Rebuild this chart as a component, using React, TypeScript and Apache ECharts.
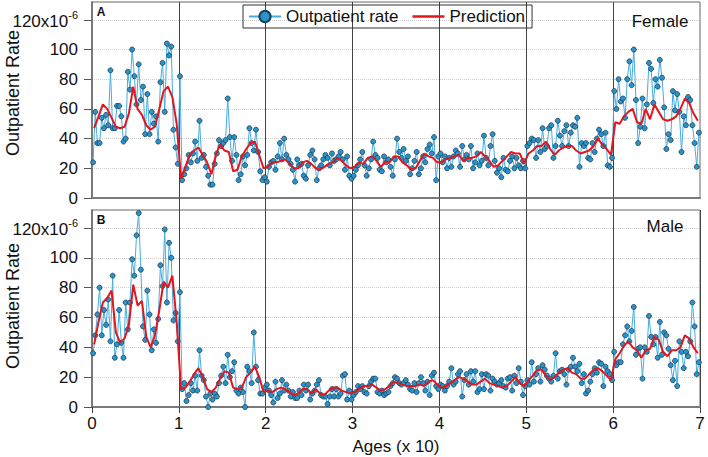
import React, { useEffect, useRef } from "react";
import * as echarts from "echarts";

const xTicks = [0, 1, 2, 3, 4, 5, 6, 7];
const yTicks = [0, 20, 40, 60, 80, 100, 120];
const legendNames = ["Outpatient rate", "Prediction"];
const panelLabels = ["A", "B"];
const sexLabels = ["Female", "Male"];

// Female observed rates (x10^-6), 40 points per decade section
const femaleObs0 = [24, 58, 37, 37, 54, 47, 56, 49, 86, 47, 47, 62, 62, 55, 38, 40, 85, 73, 100, 82, 63, 90, 66, 75, 43, 70, 43, 58, 50, 55, 38, 78, 91, 58, 104, 96, 102, 46, 34, 23];
const femaleObs1 = [82, 12, 16, 20, 29, 24, 30, 38, 25, 52, 27, 29, 21, 15, 9, 9, 23, 30, 39, 35, 37, 39, 67, 41, 25, 41, 29, 12, 16, 28, 22, 29, 47, 37, 32, 46, 31, 18, 12, 14];
const femaleObs2 = [11, 21, 24, 25, 19, 28, 37, 26, 40, 29, 26, 23, 19, 11, 26, 22, 23, 15, 13, 22, 29, 32, 26, 12, 20, 22, 26, 29, 27, 22, 30, 25, 26, 28, 31, 26, 19, 28, 15, 13];
const femaleObs3 = [15, 19, 22, 26, 31, 22, 15, 20, 26, 38, 29, 27, 19, 18, 28, 24, 26, 21, 15, 26, 40, 31, 27, 33, 25, 28, 16, 20, 25, 31, 16, 20, 28, 24, 33, 36, 30, 41, 12, 28];
const femaleObs4 = [30, 24, 28, 20, 27, 21, 28, 32, 30, 21, 35, 26, 29, 26, 35, 20, 24, 30, 22, 25, 42, 27, 22, 35, 43, 25, 17, 20, 14, 27, 19, 18, 25, 28, 20, 27, 22, 20, 25, 20];
const femaleObs5 = [35, 37, 40, 39, 27, 39, 31, 47, 33, 35, 47, 49, 27, 35, 52, 42, 35, 45, 49, 35, 44, 49, 48, 54, 21, 37, 35, 37, 27, 26, 37, 31, 40, 46, 43, 35, 44, 22, 21, 27];
const femaleObs6 = [72, 60, 80, 65, 67, 54, 80, 92, 76, 100, 66, 37, 48, 67, 47, 63, 91, 87, 64, 80, 75, 93, 81, 61, 33, 43, 39, 72, 59, 70, 58, 31, 55, 49, 68, 66, 49, 37, 21, 44];

// Female prediction, 20 points per section
const femalePred0 = [47, 55, 63, 60, 54, 48, 47, 48, 57, 75, 60, 56, 49, 46, 48, 60, 72, 75, 68, 50];
const femalePred1 = [13, 21, 29, 32, 34, 29, 24, 16, 29, 36, 32, 31, 18, 19, 28, 33, 37, 38, 29, 20];
const femalePred2 = [21, 24, 24, 25, 26, 23, 20, 20, 24, 25, 23, 20, 19, 21, 23, 24, 27, 25, 22, 20];
const femalePred3 = [21, 24, 23, 27, 28, 25, 21, 24, 24, 28, 28, 24, 22, 19, 20, 25, 30, 28, 27, 24];
const femalePred4 = [24, 26, 27, 28, 29, 25, 27, 27, 28, 31, 28, 25, 21, 22, 25, 28, 31, 30, 30, 23];
const femalePred5 = [30, 32, 35, 35, 38, 33, 29, 32, 34, 35, 35, 32, 30, 31, 32, 35, 40, 36, 33, 29];
const femalePred6 = [51, 50, 55, 58, 60, 51, 50, 60, 53, 63, 58, 53, 52, 53, 55, 60, 67, 64, 57, 52];

// Male observed rates
const maleObs0 = [36, 48, 62, 80, 48, 65, 55, 72, 44, 88, 33, 42, 65, 43, 33, 70, 52, 70, 99, 88, 115, 130, 92, 54, 45, 78, 62, 38, 52, 43, 59, 95, 81, 119, 70, 110, 100, 58, 63, 44];
const maleObs1 = [77, 12, 16, 4, 8, 16, 11, 21, 11, 38, 21, 18, 7, 0, 9, 5, 9, 7, 16, 21, 27, 16, 35, 20, 24, 30, 11, 9, 13, 10, 0, 27, 24, 16, 50, 27, 18, 9, 9, 13];
const maleObs2 = [15, 11, 8, 3, 17, 6, 9, 18, 11, 15, 11, 7, 10, 6, 6, 11, 8, 15, 11, 15, 5, 9, 11, 15, 18, 8, 7, 7, 2, 7, 12, 7, 12, 7, 9, 21, 22, 5, 11, 5];
const maleObs3 = [8, 10, 14, 12, 14, 10, 9, 14, 17, 19, 19, 10, 9, 11, 8, 9, 10, 14, 16, 20, 19, 16, 15, 16, 18, 15, 12, 11, 16, 10, 16, 20, 16, 11, 17, 8, 21, 23, 14, 12];
const maleObs4 = [15, 14, 11, 14, 17, 26, 15, 17, 22, 24, 7, 18, 22, 15, 24, 17, 24, 10, 12, 22, 12, 22, 21, 11, 19, 17, 15, 16, 18, 14, 13, 19, 20, 11, 21, 16, 26, 17, 8, 14];
const maleObs5 = [18, 15, 30, 17, 22, 26, 17, 28, 25, 21, 19, 17, 21, 36, 19, 24, 25, 22, 15, 25, 27, 33, 27, 24, 29, 16, 22, 9, 11, 17, 22, 26, 23, 30, 29, 14, 27, 24, 22, 18];
const maleObs6 = [37, 28, 30, 30, 42, 48, 54, 44, 51, 67, 35, 39, 40, 19, 40, 37, 61, 47, 42, 47, 33, 57, 35, 50, 48, 39, 28, 18, 31, 14, 44, 37, 26, 37, 34, 44, 70, 54, 22, 30];

// Male prediction
const malePred0 = [42, 57, 70, 73, 78, 50, 43, 46, 55, 82, 68, 71, 47, 40, 48, 65, 84, 80, 88, 57];
const malePred1 = [12, 13, 17, 22, 26, 20, 12, 10, 13, 19, 24, 23, 13, 12, 13, 20, 23, 27, 20, 10];
const malePred2 = [11, 10, 12, 13, 12, 10, 8, 9, 12, 12, 9, 12, 9, 8, 11, 13, 13, 11, 10, 9];
const malePred3 = [10, 12, 14, 14, 15, 13, 11, 12, 14, 17, 16, 15, 14, 14, 14, 15, 14, 17, 18, 15];
const malePred4 = [13, 14, 16, 18, 20, 19, 17, 15, 15, 17, 19, 16, 15, 14, 13, 14, 17, 20, 16, 14];
const malePred5 = [18, 21, 25, 25, 21, 18, 20, 23, 25, 26, 23, 22, 19, 19, 22, 25, 26, 24, 21, 18];
const malePred6 = [32, 36, 41, 44, 40, 38, 33, 38, 39, 47, 45, 37, 34, 38, 38, 40, 48, 46, 40, 36];

const femaleObs = [femaleObs0, femaleObs1, femaleObs2, femaleObs3, femaleObs4, femaleObs5, femaleObs6];
const femalePred = [femalePred0, femalePred1, femalePred2, femalePred3, femalePred4, femalePred5, femalePred6];
const maleObs = [maleObs0, maleObs1, maleObs2, maleObs3, maleObs4, maleObs5, maleObs6];
const malePred = [malePred0, malePred1, malePred2, malePred3, malePred4, malePred5, malePred6];

const toPoints = (sections: number[][]) =>
  sections.flatMap((arr, s) => arr.map((v, j) => [s + (j + 0.5) / arr.length, v]));

const FONT = "'Liberation Sans', Arial, sans-serif";

function makeXAxis(gridIndex: number, showLabels: boolean) {
  return {
    gridIndex,
    type: "value",
    min: 0,
    max: 7,
    interval: 1,
    axisLine: { show: true, onZero: false, lineStyle: { color: "#7a7a7a", width: 2 } },
    axisTick: {
      show: true,
      length: showLabels ? 6 : 12,
      customValues: showLabels ? xTicks : xTicks.slice(1, 7),
      lineStyle: { color: "#444", width: 1 },
    },
    axisLabel: {
      show: showLabels,
      fontSize: 17,
      color: "#111",
      margin: 8,
      fontFamily: FONT,
    },
    splitLine: { show: true, lineStyle: { color: "#444", width: 1 } },
  };
}

function makeYAxis(gridIndex: number) {
  return {
    gridIndex,
    type: "value",
    min: 0,
    max: 132,
    interval: 20,
    axisLine: { show: true, lineStyle: { color: "#7a7a7a", width: 2 } },
    axisTick: { show: true, length: 8, customValues: yTicks, lineStyle: { color: "#555" } },
    axisLabel: {
      margin: 14,
      color: "#111",
      fontSize: 17,
      fontFamily: FONT,
      formatter: (v: number) =>
        yTicks.indexOf(v) < 0 ? "" : v === 120 ? "{base|120x10}{sup|-6}" : "{base|" + v + "}",
      rich: {
        base: { fontSize: 17, fontFamily: FONT, color: "#111", verticalAlign: "bottom" },
        sup: { fontSize: 11, fontFamily: FONT, color: "#111", verticalAlign: "bottom", padding: [0, 0, 9, 0] },
      },
    },
    splitLine: { show: true, lineStyle: { color: "#cfcfcf", type: "dotted", width: 1 } },
  };
}

function obsSeries(idx: number, data: number[][]) {
  return {
    name: legendNames[0],
    type: "line",
    xAxisIndex: idx,
    yAxisIndex: idx,
    data,
    symbol: "circle",
    symbolSize: 5,
    showSymbol: true,
    showAllSymbol: true,
    lineStyle: { color: "#45ace0", width: 1 },
    itemStyle: { color: "#2a93c9", borderColor: "#1c3f58", borderWidth: 0.8 },
    z: 2,
  };
}

function predSeries(idx: number, data: number[][]) {
  return {
    name: legendNames[1],
    type: "line",
    xAxisIndex: idx,
    yAxisIndex: idx,
    data,
    symbol: "none",
    lineStyle: { color: "#e3161e", width: 2 },
    itemStyle: { color: "#e3161e" },
    z: 3,
  };
}

function txt(text: string, x: number, y: number, size: number, extra: any = {}, rotation = 0) {
  return {
    type: "text",
    x,
    y,
    rotation,
    z: 10,
    style: {
      text,
      fontSize: size,
      fontFamily: FONT,
      fill: "#111",
      align: "center",
      verticalAlign: "middle",
      textAlign: "center",
      textVerticalAlign: "middle",
      ...extra,
    },
  };
}

export default function App() {
  const ref = useRef<HTMLDivElement>(null);
  useEffect(() => {
    document.body.style.margin = "0";
    if (!ref.current) return;
    const chart = echarts.init(ref.current, null, { renderer: "svg" });
    const option: any = {
      animation: false,
      textStyle: { fontFamily: FONT },
      legend: {
        left: 243,
        top: 5,
        padding: [3, 7, 3, 5],
        borderColor: "#333",
        borderWidth: 1,
        itemWidth: 32,
        itemHeight: 14,
        itemGap: 14,
        selectedMode: false,
        textStyle: { fontSize: 17, color: "#111", fontFamily: FONT },
        data: [
          { name: legendNames[0] },
          { name: legendNames[1], icon: "path://M0,0H32V2.5H0Z" },
        ],
      },
      grid: [
        { left: 92, right: 8, top: 2, height: 196, show: true, borderColor: "#666", borderWidth: 1 },
        { left: 92, right: 8, top: 210, height: 197, show: true, borderColor: "#666", borderWidth: 1 },
      ],
      xAxis: [makeXAxis(0, false), makeXAxis(1, true)],
      yAxis: [makeYAxis(0), makeYAxis(1)],
      series: [
        obsSeries(0, toPoints(femaleObs)),
        predSeries(0, toPoints(femalePred)),
        obsSeries(1, toPoints(maleObs)),
        predSeries(1, toPoints(malePred)),
      ],
      graphic: [
        txt(panelLabels[0], 101, 12, 12, { fontWeight: "bold" }),
        txt(panelLabels[1], 101, 220, 12, { fontWeight: "bold" }),
        txt(sexLabels[0], 660, 21, 17),
        txt(sexLabels[1], 665, 226, 17),
        txt("Outpatient Rate", 13, 93, 18, {}, Math.PI / 2),
        txt("Outpatient Rate", 13, 306, 18, {}, Math.PI / 2),
        txt("Ages (x 10)", 396, 446, 17),
      ],
    };
    chart.setOption(option);
    return () => chart.dispose();
  }, []);
  return <div ref={ref} style={{ width: 708, height: 457 }} />;
}
